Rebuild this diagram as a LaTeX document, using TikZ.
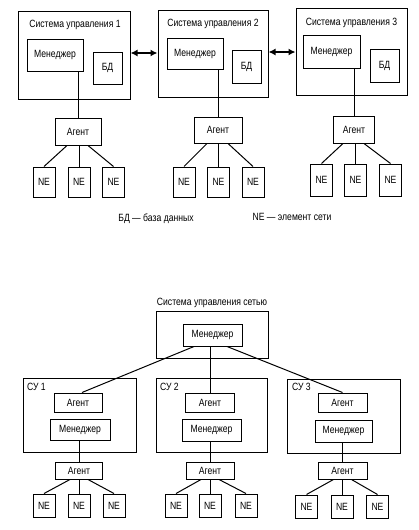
\documentclass[tikz,border=0pt]{standalone}
\usepackage{fontspec}
\setmainfont{Liberation Sans}[FakeStretch=0.82]
\usetikzlibrary{calc,arrows.meta}
\begin{document}
\begin{tikzpicture}[x=1pt,y=-1pt,
  bx/.style={draw, line width=1pt, inner sep=0pt, font=\fontsize{10.5}{12}\selectfont},
  frame/.style={draw, line width=1pt, inner sep=0pt},
  ne/.style={bx, minimum width=22pt, minimum height=30pt},
  neb/.style={bx, minimum width=22pt, minimum height=23pt},
  lbl/.style={inner sep=0pt, font=\fontsize{10.5}{12}\selectfont},
  ln/.style={line width=1pt},
  dbl/.style={line width=1.5pt, {Latex[length=7pt,width=7pt]}-{Latex[length=7pt,width=7pt]}}]
\useasboundingbox[fill=white] (0,0) rectangle (419,530);

% ---------- top part ----------
\node[frame, minimum width=112pt, minimum height=88pt] (S1) at (74,55) {};
\node[lbl] (S1t) at (75,25) {Система управления 1};
\node[bx, minimum width=56pt, minimum height=32pt] (M1) at (55,55) {Менеджер};
\node[bx, minimum width=29pt, minimum height=32pt] (D1) at (107.5,68) {БД};
\node[bx, minimum width=46pt, minimum height=27pt] (A1) at (78,131.5) {Агент};
\node[ne] (N1a) at (44,182) {NE};
\node[ne] (N1b) at (79,182) {NE};
\node[ne] (N1c) at (113.5,182) {NE};

\node[frame, minimum width=110pt, minimum height=87pt] (S2) at (213,53.5) {};
\node[lbl] (S2t) at (213,24) {Система управления 2};
\node[bx, minimum width=56pt, minimum height=31pt] (M2) at (195,53.5) {Менеджер};
\node[bx, minimum width=29pt, minimum height=33pt] (D2) at (246.5,66.5) {БД};
\node[bx, minimum width=48pt, minimum height=26pt] (A2) at (218,130) {Агент};
\node[ne] (N2a) at (184,182) {NE};
\node[ne] (N2b) at (218.5,182) {NE};
\node[ne] (N2c) at (253,182) {NE};

\node[frame, minimum width=111pt, minimum height=87pt] (S3) at (351.5,51.5) {};
\node[lbl] (S3t) at (351.5,23) {Система управления 3};
\node[bx, minimum width=57pt, minimum height=33pt] (M3) at (331.5,51.5) {Менеджер};
\node[bx, minimum width=29pt, minimum height=33pt] (D3) at (384.5,65.5) {БД};
\node[bx, minimum width=41pt, minimum height=27pt] (A3) at (354,129.5) {Агент};
\node[ne, minimum height=32pt] (N3a) at (321.5,180) {NE};
\node[ne, minimum height=32pt] (N3b) at (355.5,180) {NE};
\node[ne, minimum height=32pt] (N3c) at (390.5,180) {NE};

\draw[ln] (M1.south -| A1.north) -- (A1.north);
\draw[ln] (M2.south -| A2.north) -- (A2.north);
\draw[ln] (M3.south -| A3.north) -- (A3.north);
\foreach \a/\p in {A1/N1, A2/N2, A3/N3}{
  \draw[ln] ($(\a.south)+(-11,0)$) -- (\p a.north);
  \draw[ln] (\a.south -| \p b.north) -- (\p b.north);
  \draw[ln] ($(\a.south)+(10,0)$) -- (\p c.north);
}
\draw[dbl] (S1.east |- 0,53) -- (S2.west |- 0,53);
\draw[dbl] (S2.east |- 0,52) -- (S3.west |- 0,52);

\node[lbl] (L1) at (156,219) {БД — база данных};
\node[lbl] (L2) at (292,217) {NE — элемент сети};

% ---------- bottom part ----------
\node[lbl] (Tt) at (212,303) {Система управления сетью};
\node[frame, minimum width=112pt, minimum height=47pt] (T) at (212,334.5) {};
\node[bx, minimum width=59pt, minimum height=22pt] (TM) at (212.5,335) {Менеджер};

\node[frame, minimum width=113pt, minimum height=74pt] (C1) at (79.5,415) {};
\node[lbl, anchor=west] (C1t) at (27,387) {СУ 1};
\node[bx, minimum width=48pt, minimum height=19pt] (C1A) at (78,402.5) {Агент};
\node[bx, minimum width=60pt, minimum height=21pt] (C1M) at (80,429.5) {Менеджер};
\node[bx, minimum width=47pt, minimum height=17pt] (B1A) at (79,470.5) {Агент};
\node[neb] (B1a) at (44,505.5) {NE};
\node[neb] (B1b) at (79,505.5) {NE};
\node[neb] (B1c) at (114,505.5) {NE};

\node[frame, minimum width=111pt, minimum height=74pt] (C2) at (211.5,415) {};
\node[lbl, anchor=west] (C2t) at (160,387) {СУ 2};
\node[bx, minimum width=49pt, minimum height=19pt] (C2A) at (210,402.5) {Агент};
\node[bx, minimum width=59pt, minimum height=22pt] (C2M) at (211.5,430) {Менеджер};
\node[bx, minimum width=48pt, minimum height=17pt] (B2A) at (210,470.5) {Агент};
\node[neb] (B2a) at (176,505.5) {NE};
\node[neb] (B2b) at (210,505.5) {NE};
\node[neb] (B2c) at (246,505.5) {NE};

\node[frame, minimum width=113pt, minimum height=74pt] (C3) at (343.5,416) {};
\node[lbl, anchor=west] (C3t) at (292,387) {СУ 3};
\node[bx, minimum width=49pt, minimum height=19pt] (C3A) at (342.5,402.5) {Агент};
\node[bx, minimum width=57pt, minimum height=22pt] (C3M) at (343.5,431) {Менеджер};
\node[bx, minimum width=49pt, minimum height=17pt] (B3A) at (342.5,470.5) {Агент};
\node[neb] (B3a) at (306.5,506.5) {NE};
\node[neb] (B3b) at (342,506.5) {NE};
\node[neb] (B3c) at (377.5,506.5) {NE};

\draw[ln] ($(TM.south)+(-18.5,0)$) -- ($(C1A.north)+(4,0)$);
\draw[ln] (TM.south -| C2A.north) -- (C2A.north);
\draw[ln] ($(TM.south)+(14.5,0)$) -- (C3A.north);
\draw[ln] (C1M.south -| B1A.north) -- (B1A.north);
\draw[ln] (C2M.south -| B2A.north) -- (B2A.north);
\draw[ln] (C3M.south -| B3A.north) -- (B3A.north);
\foreach \a/\p in {B1A/B1, B2A/B2, B3A/B3}{
  \draw[ln] ($(\a.south)+(-9,0)$) -- (\p a.north);
  \draw[ln] (\a.south -| \p b.north) -- (\p b.north);
  \draw[ln] ($(\a.south)+(9,0)$) -- (\p c.north);
}
\end{tikzpicture}
\end{document}
